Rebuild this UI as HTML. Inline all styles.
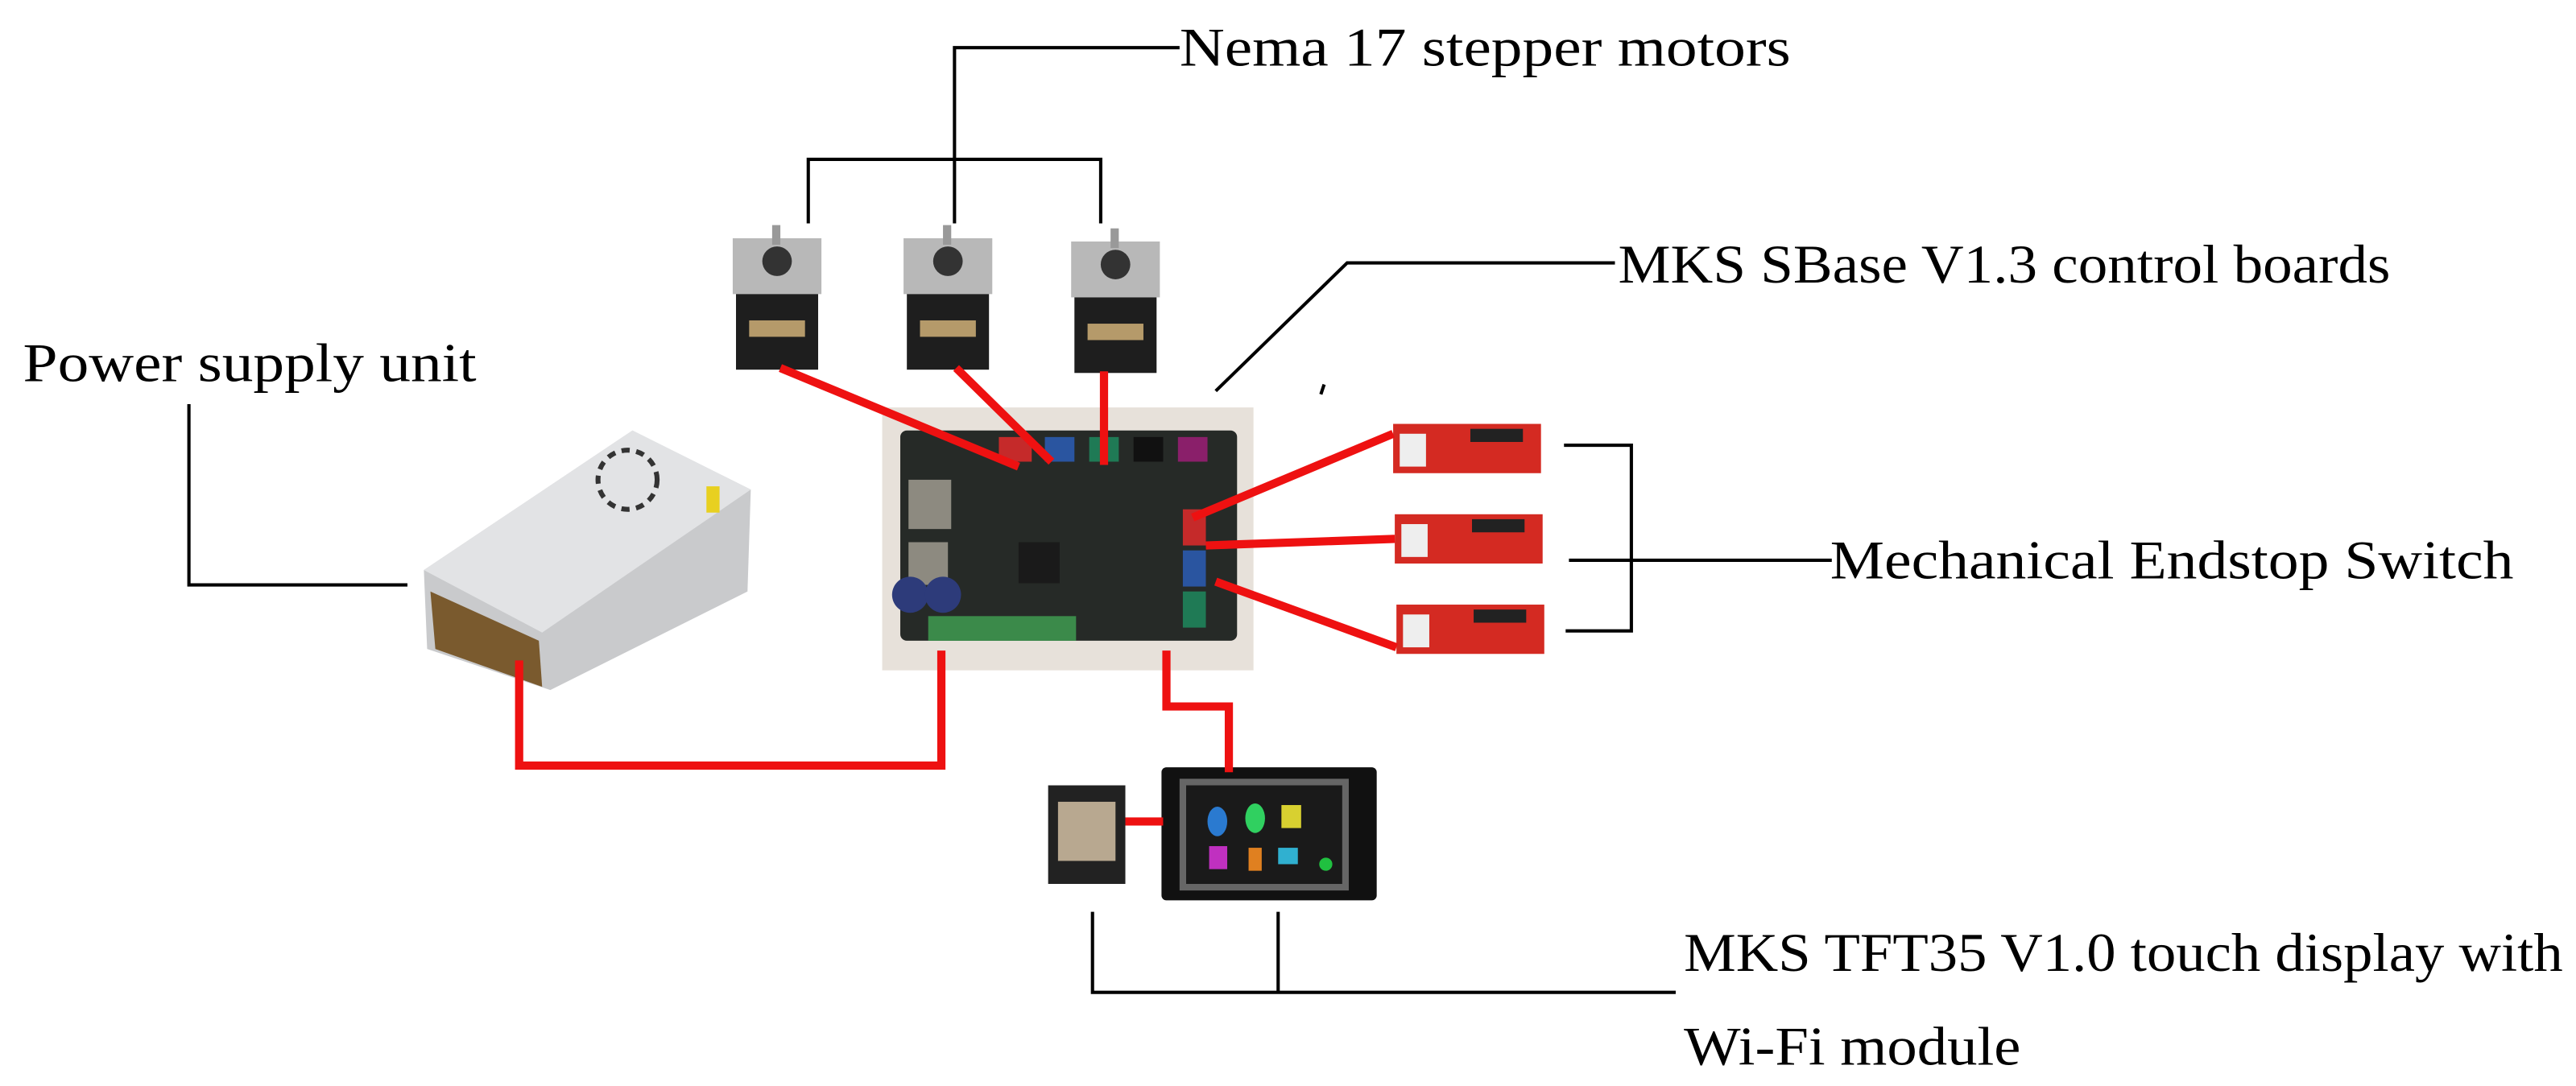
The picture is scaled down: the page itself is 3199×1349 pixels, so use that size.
<!DOCTYPE html>
<html><head><meta charset="utf-8"><style>
html,body{margin:0;padding:0;background:#fff;}
svg{display:block;}
text{font-family:"Liberation Serif",serif;fill:#000;}
</style></head><body>
<svg width="3199" height="1349" viewBox="0 0 1568 661" preserveAspectRatio="none" xmlns="http://www.w3.org/2000/svg">
<rect width="1568" height="661" fill="#fff"/>
<!-- labels -->
<text x="718" y="40" font-size="33" textLength="372" lengthAdjust="spacingAndGlyphs">Nema 17 stepper motors</text>
<text x="985" y="172" font-size="33" textLength="470" lengthAdjust="spacingAndGlyphs">MKS SBase V1.3 control boards</text>
<text x="14" y="232" font-size="33" textLength="276" lengthAdjust="spacingAndGlyphs">Power supply unit</text>
<text x="1114" y="352" font-size="33" textLength="416" lengthAdjust="spacingAndGlyphs">Mechanical Endstop Switch</text>
<text x="1025" y="591" font-size="33" textLength="535" lengthAdjust="spacingAndGlyphs">MKS TFT35 V1.0 touch display with</text>
<text x="1025" y="648" font-size="33" textLength="205" lengthAdjust="spacingAndGlyphs">Wi-Fi module</text>
<!-- black connectors -->
<g stroke="#000" stroke-width="2" fill="none">
<polyline points="718,29 581,29 581,97"/>
<polyline points="492,136 492,97 670,97 670,136"/>
<line x1="581" y1="97" x2="581" y2="136"/>
<polyline points="983,160 820,160 740,238"/>
<line x1="806" y1="234" x2="804" y2="240"/>
<polyline points="115,246 115,356 248,356"/>
<polyline points="952,271 993,271 993,384 953,384"/>
<line x1="955" y1="341" x2="1115" y2="341"/>
<polyline points="665,555 665,604 1020,604"/>
<line x1="778" y1="555" x2="778" y2="604"/>
</g>
<!-- motors -->
<g>
<g transform="translate(446,145)"><rect x="0" y="0" width="54" height="34" fill="#b8b8b8"/><circle cx="27" cy="14" r="9" fill="#333"/><rect x="24" y="-8" width="5" height="12" fill="#999"/><rect x="2" y="34" width="50" height="46" fill="#1e1e1e"/><rect x="10" y="50" width="34" height="10" fill="#b59a6a"/></g>
<g transform="translate(550,145)"><rect x="0" y="0" width="54" height="34" fill="#b8b8b8"/><circle cx="27" cy="14" r="9" fill="#333"/><rect x="24" y="-8" width="5" height="12" fill="#999"/><rect x="2" y="34" width="50" height="46" fill="#1e1e1e"/><rect x="10" y="50" width="34" height="10" fill="#b59a6a"/></g>
<g transform="translate(652,147)"><rect x="0" y="0" width="54" height="34" fill="#b8b8b8"/><circle cx="27" cy="14" r="9" fill="#333"/><rect x="24" y="-8" width="5" height="12" fill="#999"/><rect x="2" y="34" width="50" height="46" fill="#1e1e1e"/><rect x="10" y="50" width="34" height="10" fill="#b59a6a"/></g>
</g>
<!-- PSU -->
<polygon points="258,347 385,262 457,298 455,360 335,420 260,395" fill="#c9cacc"/>
<polygon points="258,347 385,262 457,298 330,385" fill="#e2e3e5"/>
<polygon points="262,360 328,390 330,418 265,395" fill="#7a5a2e"/>
<circle cx="382" cy="292" r="18" fill="none" stroke="#333" stroke-width="3" stroke-dasharray="5 4"/>
<rect x="430" y="296" width="8" height="16" fill="#e8d020"/>
<!-- board -->
<rect x="537" y="248" width="226" height="160" fill="#e7e1da"/>
<rect x="548" y="262" width="205" height="128" rx="4" fill="#262a27"/>
<rect x="553" y="292" width="26" height="30" fill="#8d8a80"/>
<rect x="553" y="330" width="24" height="26" fill="#8d8a80"/>
<circle cx="554" cy="362" r="11" fill="#2d3b7a"/><circle cx="574" cy="362" r="11" fill="#2d3b7a"/>
<rect x="565" y="375" width="90" height="15" fill="#3b8a4a"/>
<rect x="608" y="266" width="20" height="15" fill="#c52a2a"/>
<rect x="636" y="266" width="18" height="15" fill="#2a55a0"/>
<rect x="663" y="266" width="18" height="15" fill="#1f7a55"/>
<rect x="690" y="266" width="18" height="15" fill="#111"/>
<rect x="717" y="266" width="18" height="15" fill="#8a1f6a"/>
<rect x="720" y="310" width="14" height="22" fill="#c52a2a"/>
<rect x="720" y="335" width="14" height="22" fill="#2a55a0"/>
<rect x="720" y="360" width="14" height="22" fill="#1f7a55"/>
<rect x="620" y="330" width="25" height="25" fill="#1a1a1a"/>
<!-- endstops -->
<g fill="#d42a22">
<rect x="848" y="258" width="90" height="30"/>
<rect x="849" y="313" width="90" height="30"/>
<rect x="850" y="368" width="90" height="30"/>
</g>
<g fill="#eee"><rect x="852" y="264" width="16" height="20"/><rect x="853" y="319" width="16" height="20"/><rect x="854" y="374" width="16" height="20"/></g>
<g fill="#222"><rect x="895" y="261" width="32" height="8"/><rect x="896" y="316" width="32" height="8"/><rect x="897" y="371" width="32" height="8"/></g>
<!-- display & wifi -->
<rect x="638" y="478" width="47" height="60" fill="#222"/>
<rect x="644" y="488" width="35" height="36" fill="#b8a890"/>
<rect x="707" y="467" width="131" height="81" rx="3" fill="#111"/>
<rect x="718" y="474" width="103" height="68" fill="#666"/>
<rect x="722" y="478" width="95" height="60" fill="#1a1a1a"/>
<ellipse cx="741" cy="500" rx="6" ry="9" fill="#2a7ad0"/>
<ellipse cx="764" cy="498" rx="6" ry="9" fill="#30d060"/>
<rect x="780" y="490" width="12" height="14" fill="#d8d030"/>
<rect x="736" y="515" width="11" height="14" fill="#c030c0"/>
<rect x="760" y="516" width="8" height="14" fill="#e08020"/>
<rect x="778" y="516" width="12" height="10" fill="#30b0d0"/>
<circle cx="807" cy="526" r="4" fill="#20c040"/>
<!-- red wires -->
<g stroke="#ee1111" stroke-width="5" fill="none" stroke-linejoin="miter">
<line x1="475" y1="224" x2="620" y2="284"/>
<line x1="582" y1="224" x2="640" y2="281"/>
<line x1="672" y1="226" x2="672" y2="283"/>
<polyline points="316,402 316,466 573,466 573,396"/>
<polyline points="710,396 710,430 748,430 748,470"/>
<line x1="685" y1="500" x2="708" y2="500"/>
<line x1="726" y1="315" x2="848" y2="264"/>
<line x1="734" y1="332" x2="849" y2="328"/>
<line x1="740" y1="354" x2="850" y2="394"/>
</g>
</svg>
</body></html>
